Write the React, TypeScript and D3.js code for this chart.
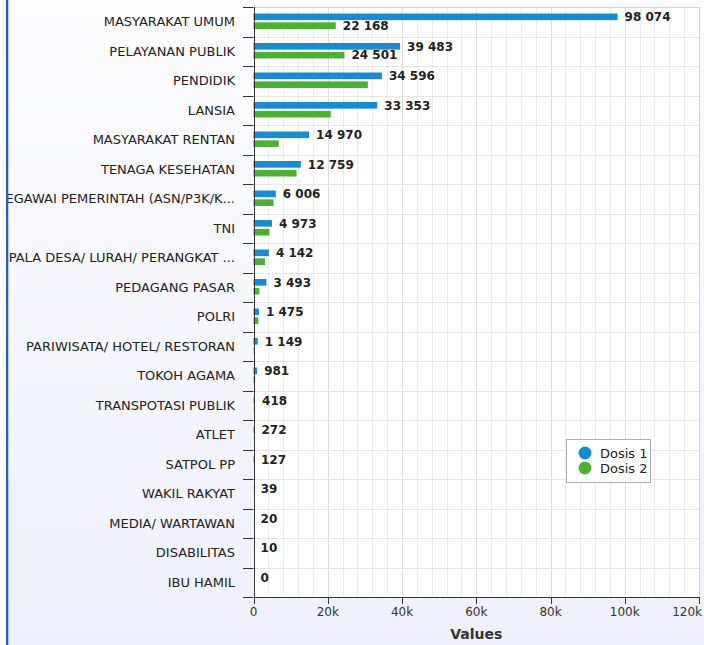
import React from 'react';
import * as d3 from 'd3';

const categories = [
  'MASYARAKAT UMUM',
  'PELAYANAN PUBLIK',
  'PENDIDIK',
  'LANSIA',
  'MASYARAKAT RENTAN',
  'TENAGA KESEHATAN',
  'PEGAWAI PEMERINTAH (ASN/P3K/K...',
  'TNI',
  'KEPALA DESA/ LURAH/ PERANGKAT ...',
  'PEDAGANG PASAR',
  'POLRI',
  'PARIWISATA/ HOTEL/ RESTORAN',
  'TOKOH AGAMA',
  'TRANSPOTASI PUBLIK',
  'ATLET',
  'SATPOL PP',
  'WAKIL RAKYAT',
  'MEDIA/ WARTAWAN',
  'DISABILITAS',
  'IBU HAMIL',
];
const dosis1 = [98074, 39483, 34596, 33353, 14970, 12759, 6006, 4973, 4142, 3493, 1475, 1149, 981, 418, 272, 127, 39, 20, 10, 0];
const dosis2 = [22168, 24501, 30800, 20800, 6800, 11600, 5400, 4300, 3100, 1600, 1300, 100, 450, 60, 40, 20, 5, 3, 1, 0];
const xTicks = [0, 20000, 40000, 60000, 80000, 100000, 120000];
const seriesNames = ['Dosis 1', 'Dosis 2'];
const seriesColors = ['#1a8bd0', '#4cb034'];

const FONT = "'DejaVu Sans', Verdana, sans-serif";

export default function App() {
  const W = 704, H = 645;
  const left = 253.5, right = 699, top = 7, bottom = 597;
  const x = d3.scaleLinear().domain([0, 120000]).range([left, right]);
  const y = d3.scaleBand<string>().domain(categories).range([top, bottom]);
  const inner = d3.scaleBand<string>().domain(['d1', 'd2']).range([6.5, 22]).paddingInner(0.25);
  const minorTicks = d3.range(4000, 120001, 4000);
  const fmt = (v: number) => d3.format(',')(v).replace(/,/g, ' ');
  const labelWidth = (s: string) => {
    let w = 0;
    for (const c of s) w += c === ' ' ? 4.2 : 8.1;
    return w;
  };
  const px = (v: number) => Math.round(v) + 0.5;
  const boundaries = categories.map((c) => y(c) as number).concat([bottom]);

  const rows = categories.map((c, i) => {
    const b0 = y(c) as number;
    const y1 = b0 + (inner('d1') as number);
    const y2 = b0 + (inner('d2') as number);
    const bh = inner.bandwidth();
    const lx1 = x(dosis1[i]) + 7;
    const lx2 = x(dosis2[i]) + 7;
    const s1 = fmt(dosis1[i]);
    const s2 = fmt(dosis2[i]);
    const gap = 5;
    const showGreen = lx2 + labelWidth(s2) + gap < lx1 || lx2 > lx1 + labelWidth(s1) + gap;
    return { c, i, y1, y2, bh, lx1, lx2, s1, s2, showGreen };
  });

  return (
    <svg
      width={W}
      height={H}
      style={{ position: 'absolute', left: 0, top: 0, fontFamily: FONT }}
    >
      <defs>
        <linearGradient id="bg" x1="0" y1="0" x2="0" y2="1">
          <stop offset="0%" stopColor="#fdfdff" />
          <stop offset="100%" stopColor="#eff0f9" />
        </linearGradient>
        <clipPath id="lblclip">
          <rect x={8} y={0} width={W} height={H} />
        </clipPath>
      </defs>
      <rect x={0} y={0} width={W} height={H} fill="url(#bg)" />
      <rect x={0} y={0} width={6} height={H} fill="#ffffff" />
      {/* plot area */}
      <rect x={left} y={top} width={right - left} height={bottom - top} fill="#ffffff" />
      {minorTicks.map((t) => (
        <line
          key={'v' + t}
          x1={px(x(t))}
          x2={px(x(t))}
          y1={top}
          y2={bottom}
          stroke={t % 20000 === 0 ? '#dedede' : '#ececec'}
          strokeWidth={1}
        />
      ))}
      {boundaries.map((b, i) => (
        <line key={'h' + i} x1={left} x2={right} y1={px(b)} y2={px(b)} stroke="#e6e6e6" />
      ))}
      <line x1={left} x2={right} y1={px(top)} y2={px(top)} stroke="#d4d4d4" />
      <line x1={px(right)} x2={px(right)} y1={top} y2={bottom} stroke="#d4d4d4" />

      {/* bars */}
      {rows.map((r) => (
        <g key={'b' + r.i}>
          <rect x={x(0)} y={r.y1} width={x(dosis1[r.i]) - x(0)} height={r.bh} fill={seriesColors[0]} />
          <rect x={x(0)} y={r.y2} width={x(dosis2[r.i]) - x(0)} height={r.bh} fill={seriesColors[1]} />
        </g>
      ))}

      {/* value labels */}
      {rows.map((r) => (
        <g key={'l' + r.i} fontSize={12} fontWeight="bold" fill="#222">
          <text x={r.lx1} y={r.y1 + r.bh / 2} dy="0.35em">{r.s1}</text>
          {r.showGreen && (
            <text x={r.lx2} y={r.y2 + r.bh / 2} dy="0.35em">{r.s2}</text>
          )}
        </g>
      ))}

      {/* y axis */}
      <line x1={px(left)} x2={px(left)} y1={top} y2={bottom} stroke="#333" />
      {boundaries.map((b, i) => (
        <line key={'yt' + i} x1={243} x2={left} y1={px(b)} y2={px(b)} stroke="#333" />
      ))}
      <g clipPath="url(#lblclip)">
        {categories.map((c) => (
          <text
            key={'yl' + c}
            x={235}
            y={(y(c) as number) + y.bandwidth() / 2}
            dy="0.35em"
            textAnchor="end"
            fontSize={13}
            fill="#222"
          >
            {c}
          </text>
        ))}
      </g>

      {/* x axis */}
      <line x1={left} x2={right} y1={px(bottom)} y2={px(bottom)} stroke="#333" />
      {xTicks.map((t, i) => {
        const last = i === xTicks.length - 1;
        return (
          <g key={'xt' + t}>
            <line x1={px(x(t))} x2={px(x(t))} y1={bottom} y2={bottom + 7} stroke="#333" />
            <text
              x={last ? 702 : x(t)}
              y={616}
              textAnchor={last ? 'end' : 'middle'}
              fontSize={12}
              fill="#333"
            >
              {t === 0 ? '0' : `${t / 1000}k`}
            </text>
          </g>
        );
      })}
      <text x={(left + right) / 2} y={639} textAnchor="middle" fontSize={14} fontWeight="bold" fill="#333">
        Values
      </text>

      {/* legend */}
      <rect x={566.5} y={439.5} width={84} height={43} fill="#ffffff" stroke="#b0b0b0" />
      {seriesNames.map((s, i) => (
        <g key={s}>
          <circle cx={585} cy={453 + i * 15} r={6.5} fill={seriesColors[i]} />
          <text x={600} y={453 + i * 15} dy="0.35em" fontSize={13} fill="#222">
            {s}
          </text>
        </g>
      ))}

      {/* left border */}
      <rect x={6} y={0} width={2.3} height={H} fill="#2f5cb5" />
    </svg>
  );
}
